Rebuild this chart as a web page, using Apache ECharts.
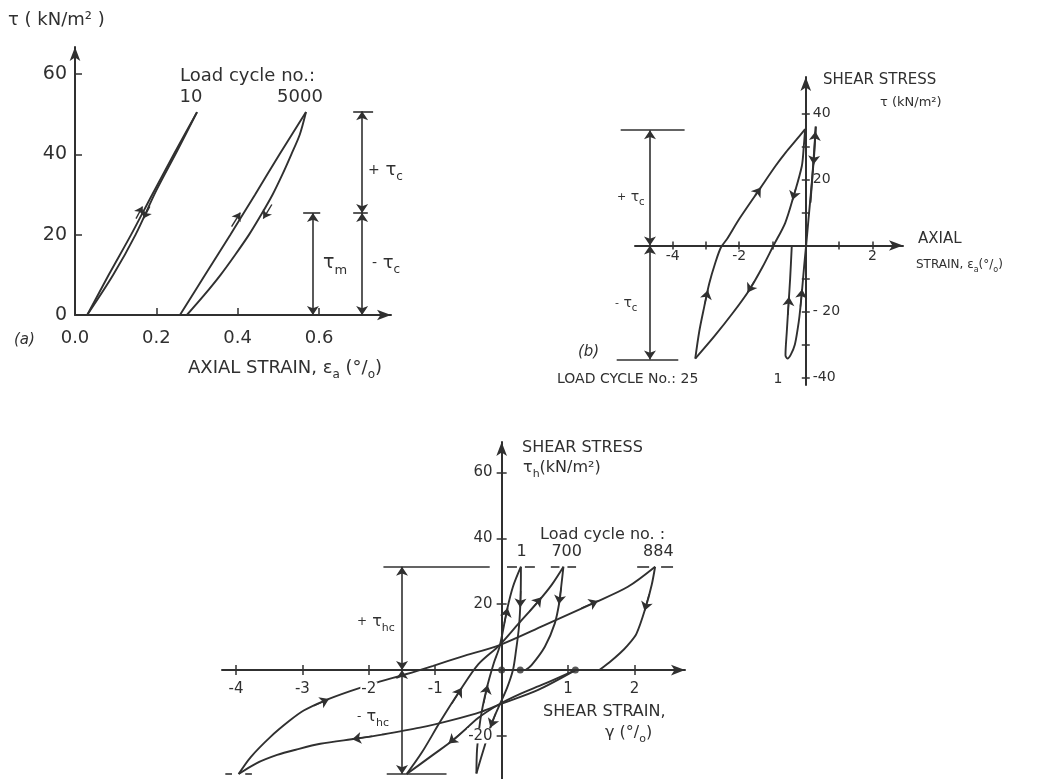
<!DOCTYPE html>
<html>
<head>
<meta charset="utf-8">
<title>Cyclic shear stress–strain loops</title>
<script src="https://cdn.jsdelivr.net/npm/echarts@6/dist/echarts.min.js"></script>
<style>
  html, body { margin: 0; padding: 0; background: #ffffff; }
  #chart { width: 1038px; height: 779px; }
</style>
</head>
<body>
<div id="chart"></div>
<script>
// ---------- (a) cyclic triaxial test: shear stress vs axial strain ----------
const aStrainTicks = [0.2, 0.4, 0.6];
const aStrainLabels = [0, 0.2, 0.4, 0.6];
const aTauTicks = [20, 40, 60];
const aTauLabels = [0, 20, 40, 60];
const cycle10Loading = [[0.03, 0], [0.083, 10], [0.138, 20], [0.19, 30], [0.243, 40], [0.30, 50.5]];
const cycle10Unloading = [[0.30, 50.5], [0.252, 41], [0.2, 31], [0.149, 20], [0.094, 10], [0.03, 0]];
const cycle5000Loading = [[0.258, 0], [0.32, 10], [0.382, 20], [0.443, 30], [0.503, 40], [0.568, 50.5]];
const cycle5000Unloading = [[0.568, 50.5], [0.553, 45], [0.532, 40], [0.51, 35], [0.486, 30], [0.458, 25],
  [0.428, 20], [0.394, 15], [0.358, 10], [0.318, 5], [0.275, 0]];
// direction arrows (tail -> head)
const aArrows = [
  [[0.150, 24], [0.166, 27]], [[0.184, 27], [0.168, 24]],
  [[0.385, 22], [0.4065, 25.5]], [[0.484, 27.5], [0.463, 24]]
];
const aTauMean = 25.4, aTauMax = 50.7;     // tau_m and tau_m + tau_c
const aMeanDimX = 0.585, aCyclicDimX = 0.706;

// ---------- (b) axial strain vs shear stress, two-way loading ----------
const bStrainTicks = [-4, -3, -2, -1, 1, 2];
const bStrainLabels = [-4, -2, 2];
const bStrainLabelTexts = ['-4', '-2', '2'];
const bTauTicks = [-40, -30, -20, -10, 10, 20, 30, 40];
const bTauLabelValues = [-40, -20, 20, 40];
const bTauLabelTexts = ['-40', '- 20', '20', '40'];
const cycle25Upper = [[-3.32, -34.2], [-3.2, -26], [-3.05, -18.5], [-2.9, -11.5], [-2.72, -5.3], [-2.55, -0.6],
  [-2.35, 2.2], [-2.0, 8.0], [-1.37, 17.3], [-0.9, 24.2], [-0.6, 28.2], [-0.3, 31.8], [-0.02, 35.2]];
const cycle25Lower = [[-0.02, 35.2], [-0.06, 30], [-0.12, 24], [-0.37, 14.8], [-0.62, 6.8], [-0.97, 0],
  [-1.3, -6.5], [-1.7, -13.5], [-2.2, -20.5], [-2.75, -27.5], [-3.32, -34.2]];
const cycle1Loop = [[-0.42, 0], [-0.47, -10], [-0.52, -18], [-0.57, -26], [-0.61, -33.2], [-0.55, -34.2],
  [-0.45, -33], [-0.33, -30], [-0.24, -25], [-0.19, -21.4], [-0.12, -14.4], [-0.05, -6.3], [0.01, 0],
  [0.08, 7.8], [0.18, 18.9], [0.24, 27], [0.30, 36]];
const cycle1Return = [[0.30, 36], [0.255, 28], [0.2, 21], [0.14, 13]];
const bArrows = [
  [[-3.03, -17.5], [-2.94, -13.5]], [[-1.52, 15.2], [-1.35, 17.6]],
  [[-0.30, 17.3], [-0.40, 13.8]], [[-1.55, -10.9], [-1.75, -14.2]],
  [[-0.539, -21], [-0.504, -15.5]], [[-0.161, -18.5], [-0.11, -13.2]],
  [[0.27, 31.5], [0.29, 34.5]], [[0.255, 28], [0.232, 24.5]]
];
const bTauTop = 34.9, bTauBottom = -34.5, bDimX = -4.68;

// ---------- (c) simple shear test: shear stress vs shear strain ----------
const cStrainTicks = [-4, -3, -2, -1, 1, 2];
const cStrainLabelTexts = ['-4', '-3', '-2', '-1', '1', '2'];
const cTauTicks = [-20, 20, 40, 60];
const cTauLabelTexts = ['-20', '20', '40', '60'];
const c884Loading = [[-3.96, -31.6], [-3.78, -26.5], [-3.48, -20.3], [-3.2, -15.5], [-2.98, -12.3], [-2.68, -9.4],
  [-2.28, -6.4], [-1.88, -3.8], [-1.43, -1.2], [-1.03, 1.3], [-0.6, 4.1], [-0.03, 7.6], [0.63, 13.5],
  [1.40, 20.5], [1.9, 25.3], [2.31, 31.4]];
const c884Unloading = [[2.31, 31.4], [2.26, 26], [2.17, 19.2], [2.03, 11.1], [1.9, 7.6], [1.78, 5.1], [1.62, 2.3], [1.47, 0]];
const c884Reversal = [[1.11, 0], [0.55, -6.0], [0.0, -10.2], [-0.3, -12.6], [-0.75, -15.2], [-1.23, -17.5],
  [-1.8, -19.6], [-2.18, -20.8], [-2.73, -22.4], [-3.1, -24.2], [-3.38, -25.8], [-3.7, -28.4], [-3.96, -31.6]];
const c700Loading = [[-1.43, -31.6], [-1.2, -25], [-0.92, -15.5], [-0.63, -6.3], [-0.35, 1.8], [-0.03, 7.6],
  [0.25, 14.0], [0.55, 20.8], [0.75, 25.8], [0.93, 31.4]];
const c700Unloading = [[0.93, 31.4], [0.90, 26], [0.87, 20.8], [0.80, 14.2], [0.65, 7.1], [0.45, 1.5], [0.36, 0]];
const c700Reversal = [[1.11, 0], [0.63, -4.3], [0.28, -7.2], [-0.03, -10.3], [-0.35, -14.5], [-0.70, -20.8],
  [-1.05, -26], [-1.43, -31.6]];
const c1Loading = [[-0.38, -31.4], [-0.37, -24], [-0.32, -15], [-0.23, -6], [-0.12, 2], [-0.03, 7.2],
  [0.08, 18.2], [0.17, 25.3], [0.29, 31.4]];
const c1Unloading = [[0.29, 31.4], [0.285, 22], [0.26, 13], [0.21, 5], [0.17, 0], [0.08, -5.5], [-0.03, -10.5],
  [-0.15, -16.2], [-0.27, -24], [-0.38, -31.4]];
const cZeroStressPoints = [[0, 0], [0.28, 0], [1.11, 0]];
const cArrows = [
  [[-2.83, -10.9], [-2.6, -8.8]], [[1.2, 18.8], [1.45, 21.0]],
  [[-1.95, -20.1], [-2.25, -21.0]], [[2.22, 23.0], [2.15, 18.0]],
  [[0.895, 25], [0.86, 20]], [[-0.75, -10.2], [-0.6, -5.4]], [[0.42, 17.9], [0.6, 22.1]],
  [[-0.5, -17.2], [-0.8, -22.3]], [[0.04, 14.2], [0.09, 18.9]], [[-0.27, -10], [-0.21, -4.5]],
  [[0.286, 24], [0.279, 19]], [[-0.09, -13.2], [-0.17, -17.5]]
];
const cTauTop = 31.4, cTauBottom = -31.6, cDimX = -1.5;

// ---------- styling ----------
const INK = '#303030';
const FONT = '"DejaVu Sans", "Liberation Sans", sans-serif';

function curve(data, ax) {
  return {
    type: 'line', xAxisIndex: ax, yAxisIndex: ax, data: data, smooth: 0.3,
    symbol: 'none', silent: true, lineStyle: { color: INK, width: 1.9 }, z: 3
  };
}
function segments(list, ax, ends, size, width) {
  return {
    type: 'lines', coordinateSystem: 'cartesian2d', xAxisIndex: ax, yAxisIndex: ax,
    clip: false, silent: true, symbol: ends, symbolSize: size,
    lineStyle: { color: INK, width: width || 1.6, opacity: 1, curveness: 0 },
    data: list.map(function (c) { return { coords: c }; }), z: 4
  };
}
// tick labels of the crossing axes, placed through the grid's own scales
function tickLabels(values, texts, ax, onX, position, distance, size, knockout) {
  return {
    type: 'scatter', xAxisIndex: ax, yAxisIndex: ax, silent: true, z: 6,
    symbol: 'circle', symbolSize: 0, itemStyle: { color: INK, opacity: 0 },
    data: values.map(function (v, i) { return { value: onX ? [v, 0] : [0, v], name: texts[i] }; }),
    label: {
      show: true, position: position, distance: distance, color: INK, opacity: 1,
      fontFamily: FONT, fontSize: size, fontWeight: 'normal',
      backgroundColor: knockout ? '#ffffff' : 'transparent', padding: knockout ? [0, 1] : 0,
      formatter: function (p) { return p.name; }
    }
  };
}
function hLine(x1, x2, y) { return [[x1, y], [x2, y]]; }
function vLine(x, y1, y2) { return [[x, y1], [x, y2]]; }
// short dashes either side of a loop tip
function tipDashes(x, y, near, far) {
  return [hLine(x - far, x - near, y), hLine(x + near, x + far, y)];
}

function valueAxis(grid, min, max, o) {
  const ax = {
    gridIndex: grid, type: 'value', min: min, max: max, position: o.position,
    splitLine: { show: false },
    axisLine: {
      show: o.line !== false, onZero: o.onZero !== false,
      symbol: ['none', 'arrow'], symbolSize: [8, 14],
      lineStyle: { color: INK, width: 2 }
    },
    axisTick: {
      show: !!o.ticks, inside: !!o.inside, length: o.tickLen || 5,
      customValues: o.ticks, lineStyle: { color: INK, width: 1.5 }
    },
    axisLabel: o.labels ? {
      show: true, customValues: o.labels, margin: o.margin,
      fontSize: o.fontSize, fontFamily: FONT, color: INK, formatter: o.formatter
    } : { show: false }
  };
  if (o.onZeroIndex != null) ax.axisLine.onZeroAxisIndex = o.onZeroIndex;
  return ax;
}

const xAxes = [
  valueAxis(0, 0, 0.777, { position: 'bottom', ticks: aStrainTicks, inside: true, tickLen: 7,
    labels: aStrainLabels, margin: 14, fontSize: 18, formatter: function (v) { return Number(v).toFixed(1); } }),
  valueAxis(1, -5.13, 2.92, { position: 'bottom', onZeroIndex: 1, ticks: bStrainTicks, tickLen: 4 }),
  valueAxis(1, -5.13, 2.92, { position: 'bottom', onZeroIndex: 1, line: false, ticks: bStrainTicks, inside: true, tickLen: 4 }),
  valueAxis(2, -4.21, 2.76, { position: 'bottom', onZeroIndex: 3, ticks: cStrainTicks, tickLen: 5 }),
  valueAxis(2, -4.21, 2.76, { position: 'bottom', onZeroIndex: 3, line: false, ticks: cStrainTicks, inside: true, tickLen: 5 })
];
const yAxes = [
  valueAxis(0, 0, 66.7, { position: 'left', ticks: aTauTicks, inside: true, tickLen: 7,
    labels: aTauLabels, margin: 8, fontSize: 19, formatter: function (v) { return String(v); } }),
  valueAxis(1, -42.2, 51.0, { position: 'left', onZeroIndex: 1, ticks: bTauTicks, tickLen: 4 }),
  valueAxis(1, -42.2, 51.0, { position: 'left', onZeroIndex: 1, line: false, ticks: bTauTicks, inside: true, tickLen: 4 }),
  valueAxis(2, -33.1, 69.3, { position: 'left', onZeroIndex: 3, ticks: cTauTicks, tickLen: 5 }),
  valueAxis(2, -33.1, 69.3, { position: 'left', onZeroIndex: 3, line: false, ticks: cTauTicks, inside: true, tickLen: 5 })
];

// ---------- annotation geometry (stress amplitude bars) ----------
const aDims = [vLine(aMeanDimX, 0, aTauMean), vLine(aCyclicDimX, 0, aTauMean), vLine(aCyclicDimX, aTauMean, aTauMax)];
const aCaps = [hLine(aMeanDimX - 0.024, aMeanDimX + 0.018, aTauMean), hLine(aCyclicDimX - 0.022, aCyclicDimX + 0.014, aTauMean),
  hLine(aCyclicDimX - 0.022, aCyclicDimX + 0.027, aTauMax)];
const bDims = [vLine(bDimX, 0, bTauTop), vLine(bDimX, 0, bTauBottom)];
const bCaps = [hLine(bDimX - 0.88, bDimX + 1.04, bTauTop), hLine(bDimX - 1.0, bDimX + 0.85, bTauBottom)];
const cDims = [vLine(cDimX, 0, cTauTop), vLine(cDimX, 0, cTauBottom)];
const cCaps = [hLine(cDimX - 0.28, -0.18, cTauTop), hLine(cDimX - 0.23, cDimX + 0.67, cTauBottom)]
  .concat(tipDashes(c1Unloading[0][0], cTauTop, 0.06, 0.21))
  .concat(tipDashes(c700Unloading[0][0], cTauTop, 0.06, 0.19))
  .concat(tipDashes(c884Unloading[0][0], cTauTop, 0.09, 0.27))
  .concat(tipDashes(c884Loading[0][0], cTauBottom, 0.1, 0.2));

const series = [
  curve(cycle10Loading, 0), curve(cycle10Unloading, 0),
  curve(cycle5000Loading, 0), curve(cycle5000Unloading, 0),
  segments(aArrows, 0, ['none', 'arrow'], 8, 1.4),
  segments(aDims, 0, ['arrow', 'arrow'], 9, 1.6),
  segments(aCaps, 0, ['none', 'none'], 0, 1.6),

  curve(cycle25Upper, 1), curve(cycle25Lower, 1), curve(cycle1Loop, 1), curve(cycle1Return, 1),
  segments(bArrows, 1, ['none', 'arrow'], 9, 1.4),
  segments(bDims, 1, ['arrow', 'arrow'], 9, 1.6),
  segments(bCaps, 1, ['none', 'none'], 0, 1.6),
  tickLabels(bStrainLabels, bStrainLabelTexts, 1, true, 'bottom', 4, 14, false),
  tickLabels(bTauLabelValues, bTauLabelTexts, 1, false, 'right', 7, 14, false),

  curve(c884Loading, 3), curve(c884Unloading, 3), curve(c884Reversal, 3),
  curve(c700Loading, 3), curve(c700Unloading, 3), curve(c700Reversal, 3),
  curve(c1Loading, 3), curve(c1Unloading, 3),
  segments(cArrows, 3, ['none', 'arrow'], 9, 1.4),
  segments(cDims, 3, ['arrow', 'arrow'], 9, 1.6),
  segments(cCaps, 3, ['none', 'none'], 0, 1.6),
  tickLabels(cStrainTicks, cStrainLabelTexts, 3, true, 'bottom', 12, 15, true),
  tickLabels(cTauTicks, cTauLabelTexts, 3, false, 'left', 8, 15, true),
  {
    type: 'scatter', xAxisIndex: 3, yAxisIndex: 3, data: cZeroStressPoints, symbol: 'circle',
    symbolSize: 7, itemStyle: { color: INK }, silent: true, z: 5
  }
];

// ---------- text ----------
function T(x, y, text, size, opt) {
  opt = opt || {};
  const lh = Math.round(size * 1.45);
  return {
    type: 'text', x: x, y: y, silent: true, z: 10,
    style: {
      text: text, fill: INK, fontFamily: FONT, fontSize: size, lineHeight: lh,
      fontStyle: opt.italic ? 'italic' : 'normal',
      align: opt.align || 'left', verticalAlign: 'middle',
      rich: {
        t: { fontSize: size, fontFamily: FONT, fill: INK, lineHeight: lh },
        s: { fontSize: Math.round(size * 0.68), fontFamily: FONT, fill: INK, verticalAlign: 'bottom' },
        p: { fontSize: Math.round(size * 0.75), fontFamily: FONT, fill: INK, lineHeight: lh }
      }
    }
  };
}

const texts = [
  // (a)
  T(8, 20, 'τ ( kN/m² )', 18),
  T(180, 76, 'Load cycle no.:', 18),
  T(191, 97, '10', 18, { align: 'center' }),
  T(300, 97, '5000', 18, { align: 'center' }),
  T(323, 263, '{t|τ}{s|m}', 19),
  T(368, 170, '{p|+} {t|τ}{s|c}', 18),
  T(372, 263, '{p|-} {t|τ}{s|c}', 18),
  T(14, 340, '(a)', 15, { italic: true }),
  T(188, 368, 'AXIAL STRAIN, {t|ε}{s|a} (°/{s|o})', 18),
  // (b)
  T(823, 80, 'SHEAR STRESS', 15),
  T(880, 103, 'τ (kN/m²)', 13),
  T(918, 239, 'AXIAL', 15),
  T(916, 265, 'STRAIN, {t|ε}{s|a}(°/{s|o})', 12),
  T(578, 352, '(b)', 15, { italic: true }),
  T(557, 379, 'LOAD CYCLE No.: 25', 14),
  T(778, 379, '1', 14, { align: 'center' }),
  T(617, 197, '{p|+} {t|τ}{s|c}', 14),
  T(615, 303, '{p|-} {t|τ}{s|c}', 14),
  // (c)
  T(522, 448, 'SHEAR STRESS', 16),
  T(523, 468, '{t|τ}{s|h}(kN/m²)', 16),
  T(540, 535, 'Load cycle no. :', 16),
  T(521.7, 552, '1', 16, { align: 'center' }),
  T(566.7, 552, '700', 16, { align: 'center' }),
  T(658.3, 552, '884', 16, { align: 'center' }),
  T(357, 622, '{p|+} {t|τ}{s|hc}', 16),
  T(357, 717, '{p|-} {t|τ}{s|hc}', 16),
  T(543, 712, 'SHEAR STRAIN,', 16),
  T(605, 733, 'γ (°/{s|o})', 16)
];

const chart = echarts.init(document.getElementById('chart'), null, { renderer: 'canvas' });
chart.setOption({
  backgroundColor: '#ffffff',
  animation: false,
  grid: [
    { left: 75, top: 47, width: 316, height: 268, containLabel: false, outerBoundsMode: 'none' },
    { left: 635, top: 77, width: 268, height: 308, containLabel: false, outerBoundsMode: 'none' },
    { left: 222, top: 442, width: 463, height: 337, containLabel: false, outerBoundsMode: 'none' }
  ],
  xAxis: xAxes,
  yAxis: yAxes,
  series: series,
  graphic: { elements: texts }
});
</script>
</body>
</html>
